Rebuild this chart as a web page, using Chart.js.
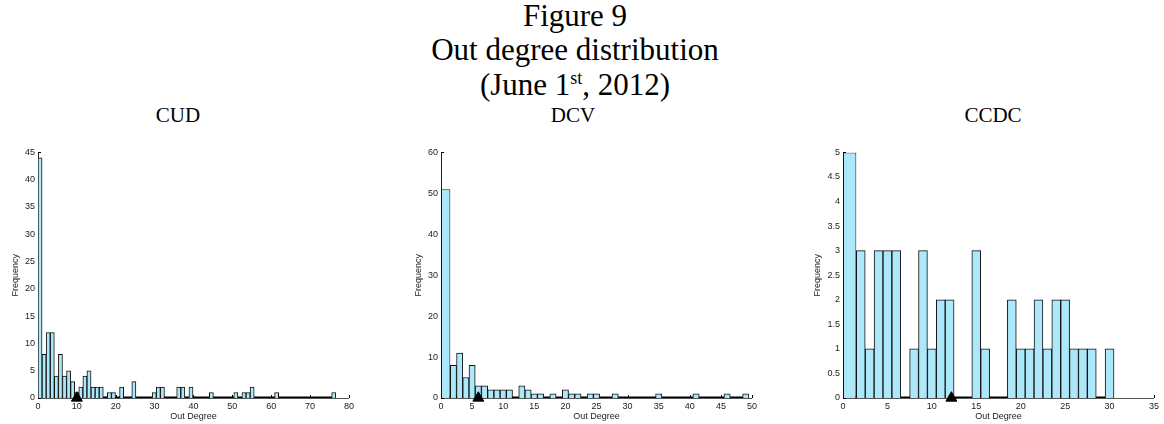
<!DOCTYPE html>
<html>
<head>
<meta charset="utf-8">
<title>Out degree distribution</title>
<script src="https://cdn.jsdelivr.net/npm/chart.js@4.4.1/dist/chart.umd.min.js"></script>
<style>
  html, body { margin: 0; padding: 0; background: #fff; }
  body { width: 1164px; height: 424px; position: relative; overflow: hidden; }
  .heading {
    position: absolute; left: 0; width: 1150px; text-align: center;
    font-family: "Liberation Serif", "Times New Roman", serif; color: #000;
    font-size: 31px; line-height: 31px; white-space: nowrap;
  }
  .heading sup { font-size: 0.58em; line-height: 0; vertical-align: 0.62em; }
  .panel-title {
    position: absolute; top: 105px; width: 200px; text-align: center;
    font-family: "Liberation Serif", "Times New Roman", serif; color: #000;
    font-size: 21px; line-height: 21px;
  }
  .panel { position: absolute; top: 144px; }
  .panel canvas { display: block; }
</style>
</head>
<body>
<div class="heading" style="top:0px">Figure 9</div>
<div class="heading" style="top:34px">Out degree distribution</div>
<div class="heading" style="top:69px">(June 1<sup>st</sup>, 2012)</div>

<div class="panel-title" style="left:78px">CUD</div>
<div class="panel-title" style="left:473px">DCV</div>
<div class="panel-title" style="left:893px">CCDC</div>

<div class="panel" style="left:10px"><canvas id="cud" width="347" height="280"></canvas></div>
<div class="panel" style="left:413px"><canvas id="dcv" width="347" height="280"></canvas></div>
<div class="panel" style="left:812px"><canvas id="ccdc" width="350" height="280"></canvas></div>

<script>
// CUD: 73 equal bins spanning 0 .. 76.6
const cudRange = [0, 76.6];
const cudCounts = [
  44, 8, 12, 12, 4, 8, 4, 5, 3, 1,
  2, 4, 5, 2, 2, 2, 0, 1, 1, 0,
  2, 0, 0, 3, 0, 0, 0, 0, 1, 2,
  2, 0, 0, 0, 2, 2, 0, 2, 0, 0,
  0, 0, 1, 0, 0, 0, 0, 0, 1, 0,
  1, 1, 2, 0, 0, 0, 0, 0, 1, 0,
  0, 0, 0, 0, 0, 0, 0, 0, 0, 0,
  0, 0, 1
];
const cudMean = 10;
const cudXTicks = [0, 10, 20, 30, 40, 50, 60, 70, 80];
const cudYTicks = [0, 5, 10, 15, 20, 25, 30, 35, 40, 45];

// DCV: integer bins, the first one reaching down to zero
const dcvCenters = [
  1, 2, 3, 4, 5, 6, 7, 8, 9, 10,
  11, 12, 13, 14, 15, 16, 17, 18, 19, 20,
  21, 22, 23, 24, 25, 26, 27, 28, 29, 30,
  31, 32, 33, 34, 35, 36, 37, 38, 39, 40,
  41, 42, 43, 44, 45, 46, 47, 48, 49
];
const dcvCounts = [
  51, 8, 11, 5, 8, 3, 3, 2, 2, 2,
  2, 0, 3, 2, 1, 1, 0, 1, 0, 2,
  1, 1, 0, 1, 1, 0, 0, 1, 0, 0,
  0, 0, 0, 0, 1, 0, 0, 0, 0, 0,
  1, 0, 0, 0, 0, 1, 0, 0, 1
];
const dcvMean = 6;
const dcvXTicks = [0, 5, 10, 15, 20, 25, 30, 35, 40, 45, 50];
const dcvYTicks = [0, 10, 20, 30, 40, 50, 60];

// CCDC
const ccdcCenters = [
  1, 2, 3, 4, 5, 6, 7, 8, 9, 10,
  11, 12, 13, 14, 15, 16, 17, 18, 19, 20,
  21, 22, 23, 24, 25, 26, 27, 28, 29, 30
];
const ccdcCounts = [
  5, 3, 1, 3, 3, 3, 0, 1, 3, 1,
  2, 2, 0, 0, 3, 1, 0, 0, 2, 1,
  1, 2, 1, 2, 2, 1, 1, 1, 0, 1
];
const ccdcMean = 12.2;
const ccdcXTicks = [0, 5, 10, 15, 20, 25, 30, 35];
const ccdcYTicks = [0, 0.5, 1, 1.5, 2, 2.5, 3, 3.5, 4, 4.5, 5];

const BAR_FILL = 'rgb(172, 232, 250)';
const BAR_EDGE = '#111';
const TEXT = '#222';

Chart.defaults.font.family = '"Liberation Sans", Arial, sans-serif';
Chart.defaults.font.size = 9;
Chart.defaults.color = TEXT;

// matlab-style tick marks pointing into the plot, plus the flat outline
// that empty bins leave along the baseline
const insideTicks = {
  id: 'insideTicks',
  beforeDatasetsDraw(chart) {
    const { ctx, chartArea, scales: { x, y } } = chart;
    ctx.save();
    ctx.strokeStyle = '#000';
    ctx.lineWidth = 1;
    ctx.beginPath();
    x.ticks.forEach((t, i) => {
      const px = Math.round(x.getPixelForTick(i)) + 0.5;
      ctx.moveTo(px, chartArea.bottom);
      ctx.lineTo(px, chartArea.bottom - 3);
    });
    y.ticks.forEach((t, i) => {
      const py = Math.round(y.getPixelForTick(i)) + 0.5;
      ctx.moveTo(chartArea.left, py);
      ctx.lineTo(chartArea.left + 3, py);
    });
    ctx.stroke();

    let left = Infinity, right = -Infinity;
    chart.data.datasets.forEach((ds, i) => {
      const meta = chart.getDatasetMeta(i);
      if (meta.type !== 'bar') return;
      meta.data.forEach((bar) => {
        left = Math.min(left, bar.x - bar.width / 2);
        right = Math.max(right, bar.x + bar.width / 2);
      });
    });
    if (left < right) {
      ctx.fillStyle = '#000';
      ctx.fillRect(left, chartArea.bottom - 1.5, right - left, 1.5);
    }
    ctx.restore();
  }
};

function barStyle(ratio) {
  return {
    grouped: false,
    barPercentage: ratio,
    categoryPercentage: 1,
    backgroundColor: BAR_FILL,
    borderColor: BAR_EDGE,
    borderWidth: 1,
    order: 2
  };
}

function drawHistogram(id, bars, firstBar, mean, xTicks, yTicks, yAxisWidth) {
  const datasets = [Object.assign({ data: bars }, barStyle(1))];
  if (firstBar) {
    datasets.push(Object.assign({ data: [firstBar.point] }, barStyle(firstBar.ratio)));
  }
  datasets.push({
    type: 'scatter',
    data: [{ x: mean, y: 0 }],
    pointStyle: 'triangle',
    pointRadius: 6.3,
    backgroundColor: '#000',
    borderColor: '#000',
    borderWidth: 1,
    clip: false,
    order: 0
  });

  const yStep = yTicks[1] - yTicks[0];
  new Chart(document.getElementById(id), {
    type: 'bar',
    data: { datasets },
    options: {
      responsive: false,
      animation: false,
      layout: { padding: { left: 0, right: 8, top: 8, bottom: 0 } },
      plugins: { legend: { display: false }, tooltip: { enabled: false } },
      scales: {
        x: {
          type: 'linear',
          min: xTicks[0],
          max: xTicks[xTicks.length - 1],
          offset: false,
          grid: { display: false, drawTicks: false, offset: false },
          border: { display: true, color: '#555', width: 1 },
          ticks: { stepSize: xTicks[1] - xTicks[0], padding: 3, autoSkip: false, maxRotation: 0 },
          title: { display: true, text: 'Out Degree', padding: { top: 0, bottom: 2 } },
          afterFit: (s) => { s.height = 26; }
        },
        y: {
          min: yTicks[0],
          max: yTicks[yTicks.length - 1],
          grid: { display: false, drawTicks: false },
          border: { display: true, color: '#222', width: 1 },
          ticks: { stepSize: yStep, padding: 3, callback: (v) => String(v) },
          title: { display: true, text: 'Frequency', padding: { top: 0, bottom: 0 } },
          afterFit: (s) => { s.width = yAxisWidth; }
        }
      }
    },
    plugins: [insideTicks]
  });
}

// CUD bins are plain equal-width bins
const cudWidth = (cudRange[1] - cudRange[0]) / cudCounts.length;
const cudBars = cudCounts.map((c, i) => ({ x: cudRange[0] + (i + 0.5) * cudWidth, y: c }));
drawHistogram('cud', cudBars, null, cudMean, cudXTicks, cudYTicks, 28);

// first bin of DCV / CCDC is drawn from 0 up to its upper edge
function widenedFirst(centers, counts) {
  const spacing = centers[1] - centers[0];
  const right = centers[0] + spacing / 2;
  return { point: { x: right / 2, y: counts[0] }, ratio: right / spacing };
}
function restBars(centers, counts) {
  return counts.slice(1).map((c, i) => ({ x: centers[i + 1], y: c }));
}

drawHistogram('dcv', restBars(dcvCenters, dcvCounts), widenedFirst(dcvCenters, dcvCounts),
  dcvMean, dcvXTicks, dcvYTicks, 28);
drawHistogram('ccdc', restBars(ccdcCenters, ccdcCounts), widenedFirst(ccdcCenters, ccdcCounts),
  ccdcMean, ccdcXTicks, ccdcYTicks, 31);
</script>
</body>
</html>
